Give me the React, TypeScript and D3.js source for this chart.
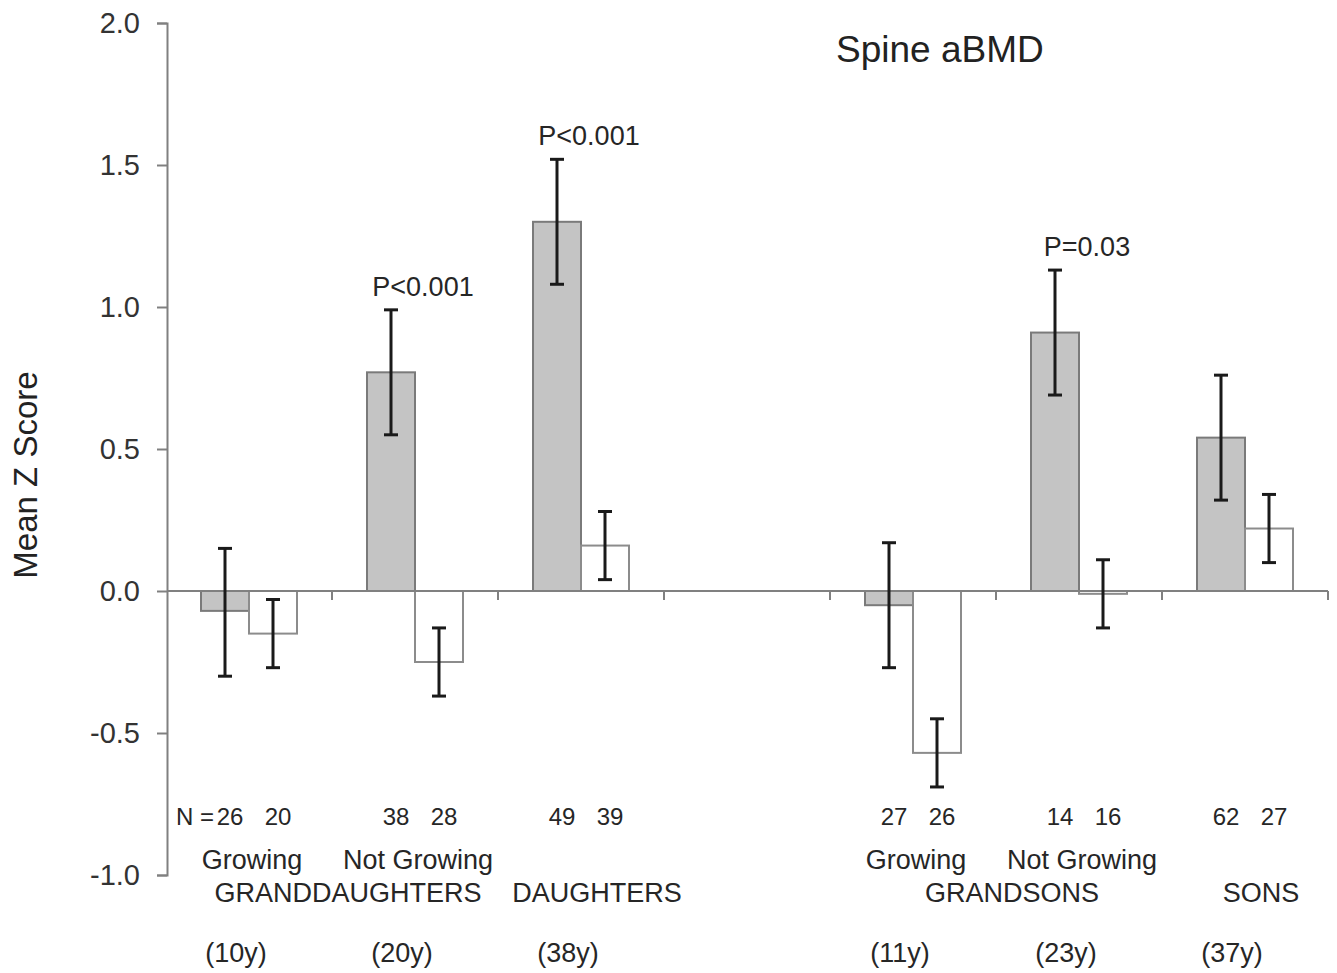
import * as d3 from "d3";
import { useEffect, useRef } from "react";

// slots along the x axis (one empty slot separates girls from boys)
const slots = ["gdGrowing", "gdNotGrowing", "daughters", "gap", "gsGrowing", "gsNotGrowing", "sons"];
const barGroups = ["gdGrowing", "gdNotGrowing", "daughters", "gsGrowing", "gsNotGrowing", "sons"];

// grey bars (probands' relatives) and white bars (controls)
const greyMeans = [-0.07, 0.77, 1.3, -0.05, 0.91, 0.54];
const greyLow = [-0.3, 0.55, 1.08, -0.27, 0.69, 0.32];
const greyHigh = [0.15, 0.99, 1.52, 0.17, 1.13, 0.76];
const whiteMeans = [-0.15, -0.25, 0.16, -0.57, -0.01, 0.22];
const whiteLow = [-0.27, -0.37, 0.04, -0.69, -0.13, 0.1];
const whiteHigh = [-0.03, -0.13, 0.28, -0.45, 0.11, 0.34];

const greyN = [26, 38, 49, 27, 14, 62];
const whiteN = [20, 28, 39, 26, 16, 27];
const growthLabels = ["Growing", "Not Growing", "", "Growing", "Not Growing", ""];
const relationLabels = ["GRANDDAUGHTERS", "DAUGHTERS", "GRANDSONS", "SONS"];
const relationSlots = [["gdGrowing", "gdNotGrowing"], ["daughters"], ["gsGrowing", "gsNotGrowing"], ["sons"]];
const ageLabels = ["(10y)", "(20y)", "(38y)", "(11y)", "(23y)", "(37y)"];
const pLabels = ["", "P<0.001", "P<0.001", "", "P=0.03", ""];
const yTicks = [-1.0, -0.5, 0.0, 0.5, 1.0, 1.5, 2.0];

const title = "Spine aBMD";
const yTitle = "Mean Z Score";

function App() {
  const ref = useRef<SVGSVGElement>(null);

  useEffect(() => {
    const svg = d3.select(ref.current);
    svg.selectAll("*").remove();

    const font = "'Liberation Sans', Arial, sans-serif";
    const textColor = "#262626";
    const axisColor = "#808080";

    // scales
    const yScale = d3.scaleLinear().domain([-1, 2]).range([875, 23]);
    const xScale = d3.scaleBand().domain(slots).range([166, 1328]).padding(0);
    const inner = d3.scaleBand().domain(["grey", "white"]).range([-48, 48]).padding(0);
    const center = (k: string) => (xScale(k) as number) + xScale.bandwidth() / 2;

    const g = svg.append("g");

    // y axis
    const yAxis = g
      .append("g")
      .attr("transform", "translate(167,0)")
      .call(
        d3
          .axisLeft(yScale)
          .tickValues(yTicks)
          .tickSize(10)
          .tickSizeOuter(10)
          .tickPadding(17)
          .tickFormat((d) => (d as number).toFixed(1))
      );
    yAxis.selectAll("path, line").attr("stroke", axisColor).attr("stroke-width", 2);
    yAxis
      .selectAll("text")
      .attr("font-family", font)
      .attr("font-size", 29)
      .attr("fill", "#333");

    // bars
    const drawBars = (means: number[], fill: string, stroke: string, key: string) => {
      g.selectAll(`rect.${key}`)
        .data(barGroups)
        .enter()
        .append("rect")
        .attr("class", key)
        .attr("x", (d) => center(d) + (inner(key) as number))
        .attr("width", inner.bandwidth())
        .attr("y", (d, i) => yScale(Math.max(0, means[i])))
        .attr("height", (d, i) => Math.abs(yScale(means[i]) - yScale(0)))
        .attr("fill", fill)
        .attr("stroke", stroke)
        .attr("stroke-width", 2);
    };
    drawBars(greyMeans, "#c4c4c4", "#7a7a7a", "grey");
    drawBars(whiteMeans, "#ffffff", "#8c8c8c", "white");

    // x axis along zero
    g.append("line")
      .attr("x1", 167)
      .attr("x2", 1328)
      .attr("y1", yScale(0))
      .attr("y2", yScale(0))
      .attr("stroke", axisColor)
      .attr("stroke-width", 2);
    g.selectAll("line.xtick")
      .data(slots)
      .enter()
      .append("line")
      .attr("class", "xtick")
      .attr("x1", (d) => (xScale(d) as number) + xScale.bandwidth())
      .attr("x2", (d) => (xScale(d) as number) + xScale.bandwidth())
      .attr("y1", yScale(0))
      .attr("y2", yScale(0) + 9)
      .attr("stroke", axisColor)
      .attr("stroke-width", 2);

    // error bars
    const drawErrors = (low: number[], high: number[], key: string) => {
      const cx = (d: string) => center(d) + (inner(key) as number) + inner.bandwidth() / 2;
      const eb = g
        .selectAll(`g.err-${key}`)
        .data(barGroups)
        .enter()
        .append("g")
        .attr("class", `err-${key}`)
        .attr("stroke", "#1a1a1a")
        .attr("stroke-width", 3);
      eb.append("line")
        .attr("x1", cx)
        .attr("x2", cx)
        .attr("y1", (d, i) => yScale(low[i]))
        .attr("y2", (d, i) => yScale(high[i]));
      eb.append("line")
        .attr("x1", (d) => cx(d) - 7)
        .attr("x2", (d) => cx(d) + 7)
        .attr("y1", (d, i) => yScale(low[i]))
        .attr("y2", (d, i) => yScale(low[i]));
      eb.append("line")
        .attr("x1", (d) => cx(d) - 7)
        .attr("x2", (d) => cx(d) + 7)
        .attr("y1", (d, i) => yScale(high[i]))
        .attr("y2", (d, i) => yScale(high[i]));
    };
    drawErrors(greyLow, greyHigh, "grey");
    drawErrors(whiteLow, whiteHigh, "white");

    // p values above the grey error bars
    g.selectAll("text.pval")
      .data(barGroups)
      .enter()
      .append("text")
      .attr("class", "pval")
      .attr("x", (d) => center(d) + 8)
      .attr("y", (d, i) => yScale(greyHigh[i]) - 14)
      .attr("text-anchor", "middle")
      .attr("font-family", font)
      .attr("font-size", 27)
      .attr("fill", textColor)
      .text((d, i) => pLabels[i]);

    // N row
    const nRow = (vals: number[], key: string) => {
      g.selectAll(`text.n-${key}`)
        .data(barGroups)
        .enter()
        .append("text")
        .attr("class", `n-${key}`)
        .attr("x", (d) => center(d) + (inner(key) as number) + inner.bandwidth() / 2 + 5)
        .attr("y", 825)
        .attr("text-anchor", "middle")
        .attr("font-family", font)
        .attr("font-size", 24)
        .attr("fill", textColor)
        .text((d, i) => vals[i]);
    };
    nRow(greyN, "grey");
    nRow(whiteN, "white");
    g.append("text")
      .attr("x", center(barGroups[0]) + (inner("grey") as number) + inner.bandwidth() / 2 - 11)
      .attr("y", 825)
      .attr("text-anchor", "end")
      .attr("font-family", font)
      .attr("font-size", 24)
      .attr("fill", textColor)
      .text("N =");

    // category labels
    g.selectAll("text.growth")
      .data(barGroups)
      .enter()
      .append("text")
      .attr("class", "growth")
      .attr("x", (d) => center(d) + 3)
      .attr("y", 869)
      .attr("text-anchor", "middle")
      .attr("font-family", font)
      .attr("font-size", 27)
      .attr("fill", textColor)
      .text((d, i) => growthLabels[i]);

    g.selectAll("text.relation")
      .data(relationLabels)
      .enter()
      .append("text")
      .attr("class", "relation")
      .attr("x", (d, i) => d3.mean(relationSlots[i], center)! + 16)
      .attr("y", 902)
      .attr("text-anchor", "middle")
      .attr("font-family", font)
      .attr("font-size", 27)
      .attr("fill", textColor)
      .text((d) => d);

    g.selectAll("text.age")
      .data(barGroups)
      .enter()
      .append("text")
      .attr("class", "age")
      .attr("x", (d) => center(d) - 13)
      .attr("y", 962)
      .attr("text-anchor", "middle")
      .attr("font-family", font)
      .attr("font-size", 27)
      .attr("fill", textColor)
      .text((d, i) => ageLabels[i]);

    // titles
    g.append("text")
      .attr("x", 836)
      .attr("y", 62)
      .attr("font-family", font)
      .attr("font-size", 37)
      .attr("fill", "#222")
      .text(title);

    g.append("text")
      .attr("transform", "translate(37,475) rotate(-90)")
      .attr("text-anchor", "middle")
      .attr("font-family", font)
      .attr("font-size", 33)
      .attr("fill", "#222")
      .text(yTitle);
  }, []);

  return (
    <svg
      ref={ref}
      width={1337}
      height={973}
      style={{ position: "absolute", left: 0, top: 0, background: "#fff" }}
    />
  );
}

export default App;
